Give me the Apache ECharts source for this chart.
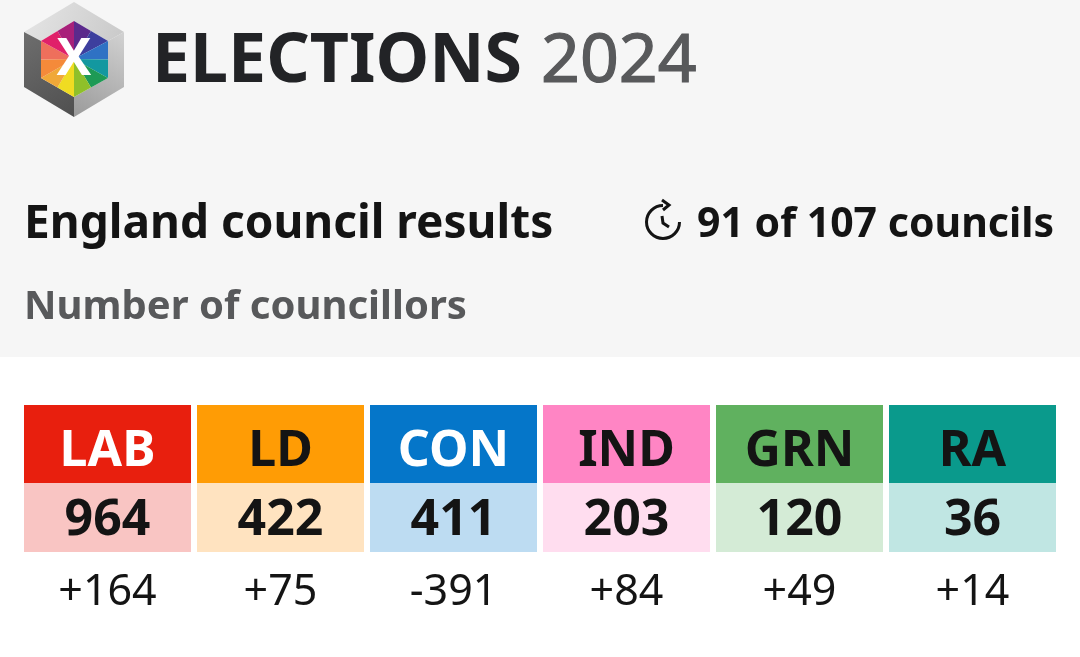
<!DOCTYPE html>
<html><head><meta charset="utf-8">
<script src="https://cdn.jsdelivr.net/npm/echarts@6/dist/echarts.min.js"></script>
<style>html,body{margin:0;padding:0;background:#fff}#c{width:1080px;height:657px}</style></head>
<body><div id="c"></div>
<script>
const parties = ['LAB','LD','CON','IND','GRN','RA'];
const seats = [964,422,411,203,120,36];
const changes = [164,75,-391,84,49,14];
const headColors = ['#e81f0e','#ff9c05','#0576c9','#ff85c4','#60b15f','#0a9a8c'];
const cellColors = ['#f9c5c3','#ffe3c0','#bddcf2','#ffddef','#d4ebd6','#c0e6e3'];
const headInk = ['#ffffff','#141414','#ffffff','#141414','#141414','#141414'];
const FF = '"Noto Sans", sans-serif';

const hexOuter = {t:[74,21],ur:[108,41],lr:[108,78],b:[74,97],ll:[41,78],ul:[41,41]};
const C = [74,59];
const mid = (a,b)=>[(a[0]+b[0])/2,(a[1]+b[1])/2];
const h = hexOuter;
const wedges = [
 [h.t,mid(h.t,h.ur),'#5b2a8c'],[mid(h.t,h.ur),h.ur,'#3d3f9e'],
 [h.ur,mid(h.ur,h.lr),'#2f72c4'],[mid(h.ur,h.lr),h.lr,'#1398a0'],
 [h.lr,mid(h.lr,h.b),'#1e9a55'],[mid(h.lr,h.b),h.b,'#8fc02a'],
 [h.b,mid(h.b,h.ll),'#f0dc22'],[mid(h.b,h.ll),h.ll,'#f0a838'],
 [h.ll,mid(h.ll,h.ul),'#f48a3a'],[mid(h.ll,h.ul),h.ul,'#ee6f5c'],
 [h.ul,mid(h.ul,h.t),'#e0206a'],[mid(h.ul,h.t),h.t,'#a8207a']
];
const poly=(points,fill)=>({type:'polygon',silent:true,shape:{points},style:{fill}});
const lin=(x,y,x2,y2,a,b)=>new echarts.graphic.LinearGradient(x,y,x2,y2,[{offset:0,color:a},{offset:1,color:b}]);
const txt=(x,y,text,font,fill,align,extra)=>({type:'text',silent:true,x,y,style:Object.assign({text,font,fill,align:align||'left',verticalAlign:'middle'},extra||{})});

const graphics = [
 {type:'rect',silent:true,shape:{x:0,y:0,width:1080,height:357},style:{fill:'#f6f6f6'}},
 poly([[74,2],[124,32],[108,41],[74,21],[41,41],[24,32]],lin(0,0,1,1,'#e6e6e6','#c9c9c9')),
 poly([[24,32],[41,41],[41,78],[74,97],[74,117],[24,87]],lin(0,0,1,1,'#6e6e6e','#4f4f4f')),
 poly([[124,32],[108,41],[108,78],[74,97],[74,117],[124,87]],lin(0,1,1,0,'#9a9a9a','#d2d2d2')),
 ...wedges.map(w=>poly([C,w[0],w[1]],w[2])),
 txt(74,60,'X','bold 52px '+FF,'#ffffff','center'),
 txt(152,63,'ELECTIONS','bold 68px '+FF,'#222326'),
 txt(541,63,'2024','68px '+FF,'#58595b','left',{stroke:'#58595b',lineWidth:1.2}),
 txt(24,225,'England council results','bold 46px '+FF,'#141414'),
 txt(697,225,'91 of 107 councils','bold 41px '+FF,'#141414'),
 txt(24,308,'Number of councillors','bold 40px '+FF,'#58595b'),
 {type:'arc',silent:true,shape:{cx:663,cy:222,r:16.5,startAngle:0,endAngle:Math.PI*1.5,clockwise:true},style:{fill:'none',stroke:'#141414',lineWidth:3}},
 {type:'polyline',silent:true,shape:{points:[[662,200],[669,205],[663,210]]},style:{fill:'none',stroke:'#141414',lineWidth:3}},
 {type:'polyline',silent:true,shape:{points:[[662,216],[663,223],[669,227]]},style:{fill:'none',stroke:'#141414',lineWidth:3}}
];

const HEAD_H=78, CELL_H=69, CHANGE_Y=188;
const fmt=v=>(v>0?'+':'')+v;
function renderItem(params, api){
  const i=api.value(0);
  const p=api.coord([i,0]);
  const band=api.size([1,0])[0];
  const w=band-6, x=p[0]-w/2, top=params.coordSys.y;
  return {type:'group',children:[
    {type:'rect',shape:{x,y:top,width:w,height:HEAD_H},style:{fill:headColors[i]}},
    {type:'rect',shape:{x,y:top+HEAD_H,width:w,height:CELL_H},style:{fill:cellColors[i]}},
    {type:'text',style:{x:p[0],y:top+HEAD_H/2+8,text:parties[i],font:'bold 50px '+FF,fill:headInk[i],align:'center',verticalAlign:'middle'}},
    {type:'text',style:{x:p[0],y:top+HEAD_H+CELL_H/2+3,text:String(api.value(1)),font:'bold 50px '+FF,fill:'#141414',align:'center',verticalAlign:'middle'}},
    {type:'text',style:{x:p[0],y:top+CHANGE_Y,text:fmt(api.value(2)),font:'43px '+FF,fill:'#141414',align:'center',verticalAlign:'middle'}}
  ]};
}
const chart=echarts.init(document.getElementById('c'),null,{renderer:'canvas'});
chart.setOption({
  animation:false,
  backgroundColor:'#ffffff',
  graphic:graphics,
  grid:{left:21,width:1038,top:405,height:252},
  xAxis:{type:'category',data:parties,show:false},
  yAxis:{type:'value',show:false,min:0,max:1},
  series:[{type:'custom',coordinateSystem:'cartesian2d',silent:true,renderItem,clip:false,
    encode:{x:0,y:3},
    data:parties.map((p,i)=>[i,seats[i],changes[i],0])}]
});
</script></body></html>
